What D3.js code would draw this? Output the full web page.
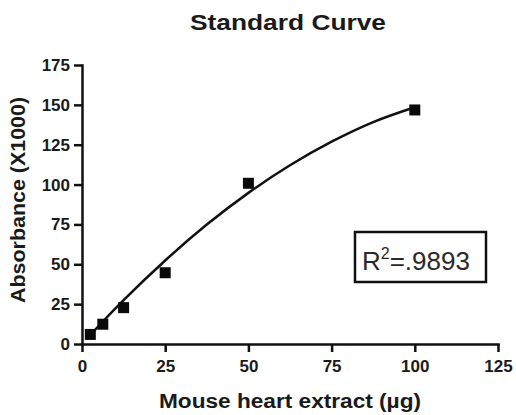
<!DOCTYPE html>
<html>
<head>
<meta charset="utf-8">
<script src="https://cdn.jsdelivr.net/npm/d3@7"></script>
<style>
    body { margin: 0; background: #fff; }
    text { font-family: "Liberation Sans", Arial, sans-serif; fill: #1a1a1a; }
    .axis path, .axis line { stroke: #111; stroke-width: 2.5; }
    .axis text { font-size: 17px; font-weight: bold; }
</style>
</head>
<body>
<div id="chart"></div>
<script>
// measured standards
var amounts = [2.5, 6.25, 12.5, 25, 50, 100];
var absorbance = [6, 12.4, 22.8, 44.7, 100.8, 146.8];

// fitted curve
var fitX = [2.5, 5, 12.5, 25, 37.5, 50, 62.5, 75, 87.5, 100];
var fitY = [5.7, 11.3, 27.5, 52.4, 74.9, 94.8, 112.1, 126.9, 139.2, 148.5];

var xTicks = [0, 25, 50, 75, 100, 125];
var yTicks = [0, 25, 50, 75, 100, 125, 150, 175];
var rSquared = ".9893";

var width = 516, height = 415;
var margin = { top: 65, right: 18, bottom: 71, left: 82 };

var xscale = d3.scaleLinear()
    .domain([0, 125])
    .range([margin.left, width - margin.right]);
var yscale = d3.scaleLinear()
    .domain([0, 175])
    .range([height - margin.bottom, margin.top]);

var svg = d3.select("#chart")
    .append("svg")
    .attr("width", width)
    .attr("height", height);

// title
svg.append("text")
    .attr("x", 288)
    .attr("y", 30)
    .attr("text-anchor", "middle")
    .attr("textLength", 196)
    .attr("lengthAdjust", "spacingAndGlyphs")
    .style("font-size", "22px")
    .style("font-weight", "bold")
    .text("Standard Curve");

// axes
svg.append("g")
    .attr("class", "axis")
    .attr("transform", "translate(0," + yscale(0) + ")")
    .call(d3.axisBottom(xscale).tickValues(xTicks).tickSize(8).tickSizeOuter(0).tickPadding(8));

svg.append("g")
    .attr("class", "axis")
    .attr("transform", "translate(" + xscale(0) + ",0)")
    .call(d3.axisLeft(yscale).tickValues(yTicks).tickSize(8).tickSizeOuter(0).tickPadding(4));

svg.selectAll(".axis path").attr("stroke-linecap", "square");

// axis titles
svg.append("text")
    .attr("x", (xscale(0) + xscale(125)) / 2)
    .attr("y", 408)
    .attr("text-anchor", "middle")
    .attr("textLength", 262)
    .attr("lengthAdjust", "spacingAndGlyphs")
    .style("font-size", "20px")
    .style("font-weight", "bold")
    .text("Mouse heart extract (\u00b5g)");

svg.append("text")
    .attr("transform", "translate(25,200) rotate(-90)")
    .attr("text-anchor", "middle")
    .attr("textLength", 206)
    .attr("lengthAdjust", "spacingAndGlyphs")
    .style("font-size", "20px")
    .style("font-weight", "bold")
    .text("Absorbance (X1000)");

// fitted curve
var line = d3.line()
    .x(function (d) { return xscale(d[0]); })
    .y(function (d) { return yscale(d[1]); })
    .curve(d3.curveMonotoneX);

svg.append("path")
    .datum(fitX.map(function (x, i) { return [x, fitY[i]]; }))
    .attr("d", line)
    .attr("fill", "none")
    .attr("stroke", "#111")
    .attr("stroke-width", 2.5);

// data points
var size = 11;
svg.selectAll(".pt")
    .data(amounts.map(function (x, i) { return [x, absorbance[i]]; }))
    .enter()
    .append("rect")
    .attr("class", "pt")
    .attr("x", function (d) { return xscale(d[0]) - size / 2; })
    .attr("y", function (d) { return yscale(d[1]) - size / 2; })
    .attr("width", size)
    .attr("height", size)
    .attr("fill", "#0a0a0a");

// R squared box
var box = svg.append("g");
box.append("rect")
    .attr("x", 355)
    .attr("y", 232)
    .attr("width", 131)
    .attr("height", 50)
    .attr("fill", "#fff")
    .attr("stroke", "#111")
    .attr("stroke-width", 2.5);

var rtext = box.append("text")
    .attr("x", 362)
    .attr("y", 270)
    .style("font-size", "26px")
    .style("fill", "#2a2a2a");
rtext.append("tspan").text("R");
rtext.append("tspan")
    .attr("dy", -11)
    .style("font-size", "16px")
    .text("2");
rtext.append("tspan")
    .attr("dy", 11)
    .text("=" + rSquared);
</script>
</body>
</html>
